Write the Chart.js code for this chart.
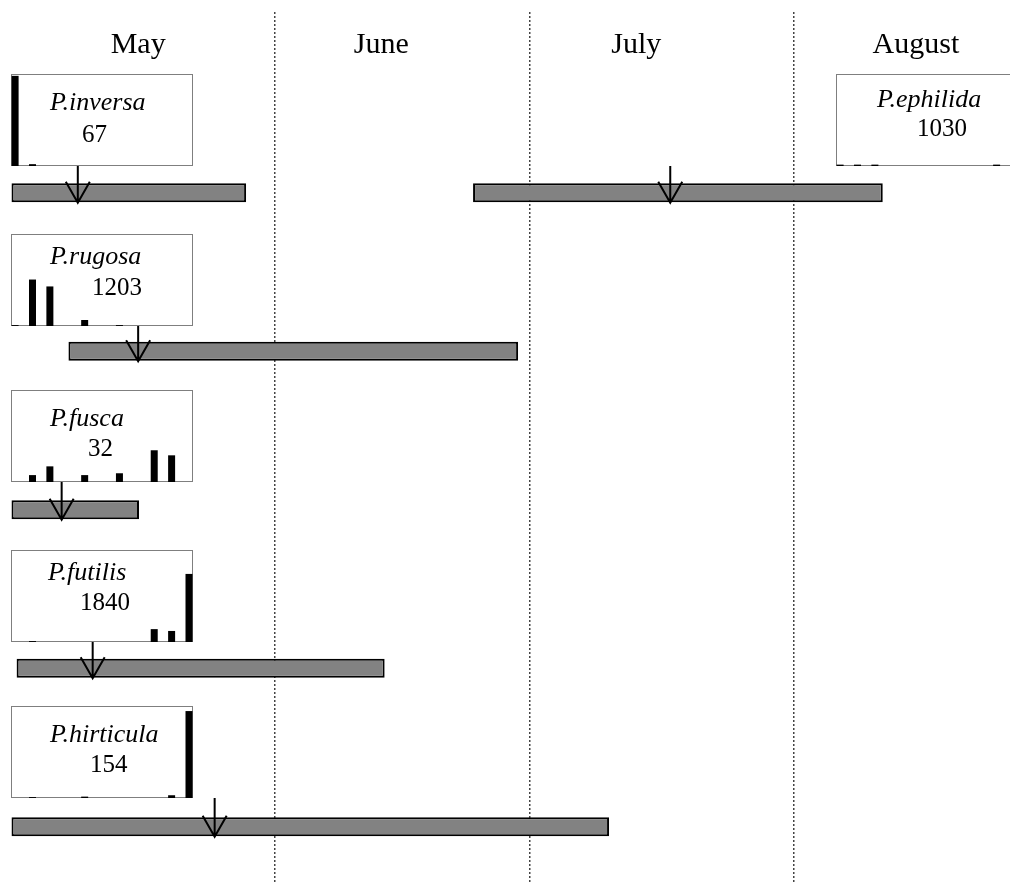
<!DOCTYPE html>
<html>
<head>
<meta charset="utf-8">
<script src="https://cdn.jsdelivr.net/npm/chart.js@4.4.1/dist/chart.umd.min.js"></script>
<style>
  html, body { margin: 0; padding: 0; background: #fff; overflow: hidden; }
  #wrap { position: relative; width: 1010px; height: 882px; overflow: hidden; }
  #main { position: absolute; left: 0; top: 0; }
  .inset { position: absolute; }
</style>
</head>
<body>
<div id="wrap">
  <canvas id="main" width="1010" height="882"></canvas>
</div>
<script>
// months along the top (x = days after 1 May)
const months = ["May", "June", "July", "August"];
const monthLabelDays = [14.9, 43.5, 73.5, 106.4];
const monthEdges = [31, 61, 92];

// flight periods
const species = ["P.inversa", "P.ephilida", "P.rugosa", "P.fusca", "P.futilis", "P.hirticula"];
const sampleSize = [67, 1030, 1203, 32, 1840, 154];
const speciesRow = [0, 0, 1, 2, 3, 4];
const flightStart = [0, 54.3, 6.7, 0, 0.6, 0];
const flightEnd = [27.6, 102.5, 59.6, 15.0, 43.9, 70.3];
const meanDay = [7.8, 77.5, 14.9, 5.9, 9.55, 23.9];

// small histograms (% of box height)
const histBins = [0, 1, 2, 3, 4, 5, 6, 7, 8, 9, 10];
const histInversa = [98, 2, 0, 0, 0, 0, 0, 0, 0, 0, 0];
const histEphilida = [1.5, 1.5, 1.5, 0, 0, 0, 0, 0, 0, 1.5, 0];
const histRugosa = [1, 50.5, 43, 0, 6.5, 0, 1, 0, 0, 0, 0];
const histFusca = [0, 7.5, 17, 0, 7.5, 0, 9.5, 0, 34.5, 29, 0];
const histFutilis = [0, 1, 0, 0, 0, 0, 0, 0, 14, 12, 74];
const histHirticula = [0, 1, 0, 0, 1.5, 0, 0, 0, 0, 3, 94.5];
const histograms = [histInversa, histEphilida, histRugosa, histFusca, histFutilis, histHirticula];

// where each little box sits, and where its text goes inside it
const INSET_W = 182, INSET_H = 92;
const insetBoxes = [
    { left: 11,  top: 74,  nameX: 39, nameY: 36, countX: 71, countY: 68 },
    { left: 836, top: 74,  nameX: 41, nameY: 33, countX: 81, countY: 62 },
    { left: 11,  top: 234, nameX: 39, nameY: 30, countX: 81, countY: 61 },
    { left: 11,  top: 390, nameX: 39, nameY: 36, countX: 77, countY: 66 },
    { left: 11,  top: 550, nameX: 37, nameY: 30, countX: 69, countY: 60 },
    { left: 11,  top: 706, nameX: 39, nameY: 36, countX: 79, countY: 66 },
];

const SERIF = '"Liberation Serif", "Times New Roman", serif';

const monthLabels = {
    id: "monthLabels",
    afterDraw(chart) {
        const { ctx, scales: { x } } = chart;
        ctx.save();
        ctx.font = "30px " + SERIF;
        ctx.fillStyle = "#000";
        ctx.textAlign = "center";
        ctx.textBaseline = "alphabetic";
        months.forEach((m, i) => ctx.fillText(m, x.getPixelForValue(monthLabelDays[i]), 53));
        ctx.restore();
    }
};

const meanArrows = {
    id: "meanArrows",
    afterDatasetsDraw(chart) {
        const { ctx, scales: { x, y } } = chart;
        ctx.save();
        ctx.strokeStyle = "#000";
        ctx.lineWidth = 2;
        meanDay.forEach((d, i) => {
            const px = x.getPixelForValue(d);
            const tip = y.getPixelForValue(speciesRow[i]) + 10;
            const top = insetBoxes[i].top + INSET_H;
            ctx.beginPath();
            ctx.moveTo(px, top);
            ctx.lineTo(px, tip);
            ctx.moveTo(px - 12, tip - 21);
            ctx.lineTo(px, tip);
            ctx.lineTo(px + 12, tip - 21);
            ctx.stroke();
        });
        ctx.restore();
    }
};

new Chart(document.getElementById("main").getContext("2d"), {
    type: "bar",
    data: {
        datasets: [{
            data: species.map((s, i) => ({ x: [flightStart[i], flightEnd[i]], y: speciesRow[i] })),
            backgroundColor: "#828282",
            borderColor: "#000",
            borderWidth: 2,
            borderSkipped: false,
            inflateAmount: 0,
            barThickness: 19,
        }]
    },
    options: {
        indexAxis: "y",
        responsive: false,
        animation: false,
        layout: { padding: { top: 12 } },
        scales: {
            x: {
                type: "linear",
                min: -1.353,
                max: 117.47,
                afterBuildTicks: (scale) => { scale.ticks = monthEdges.map(v => ({ value: v })); },
                afterFit: (scale) => { scale.height = 0; },
                ticks: { display: false },
                border: { display: false, dash: [2, 2] },
                grid: { color: "#444", lineWidth: 1.5, drawTicks: false },
            },
            y: {
                type: "linear",
                offset: false,
                reverse: true,
                min: -1.141,
                max: 4.348,
                display: false,
            }
        },
        plugins: {
            legend: { display: false },
            tooltip: { enabled: false }
        }
    },
    plugins: [monthLabels, meanArrows]
});

// the small boxes
const wrap = document.getElementById("wrap");
histograms.forEach((hist, i) => {
    const box = insetBoxes[i];
    const cv = document.createElement("canvas");
    cv.width = INSET_W;
    cv.height = INSET_H;
    cv.className = "inset";
    cv.style.left = box.left + "px";
    cv.style.top = box.top + "px";
    wrap.appendChild(cv);

    const frame = {
        id: "frame" + i,
        beforeDatasetsDraw(chart) {
            const { ctx } = chart;
            ctx.save();
            ctx.fillStyle = "#fff";
            ctx.fillRect(0, 0, INSET_W, INSET_H);
            ctx.strokeStyle = "#7f7f7f";
            ctx.lineWidth = 1;
            ctx.strokeRect(0.5, 0.5, INSET_W - 1, INSET_H - 1);
            ctx.fillStyle = "#000";
            ctx.textAlign = "left";
            ctx.textBaseline = "alphabetic";
            ctx.font = "italic 26px " + SERIF;
            ctx.fillText(species[i], box.nameX, box.nameY);
            ctx.font = "25px " + SERIF;
            ctx.fillText(String(sampleSize[i]), box.countX, box.countY);
            ctx.restore();
        }
    };

    new Chart(cv.getContext("2d"), {
        type: "bar",
        data: {
            datasets: [{
                data: histBins.map((b, k) => ({ x: b, y: hist[k] || null })),
                backgroundColor: "#000",
                inflateAmount: 0,
                barThickness: 7,
            }]
        },
        options: {
            responsive: false,
            animation: false,
            layout: { padding: 0 },
            scales: {
                x: { type: "linear", offset: false, min: -0.236, max: 10.23, display: false },
                y: { min: 0, max: 100, display: false }
            },
            plugins: {
                legend: { display: false },
                tooltip: { enabled: false }
            }
        },
        plugins: [frame]
    });
});
</script>
</body>
</html>
